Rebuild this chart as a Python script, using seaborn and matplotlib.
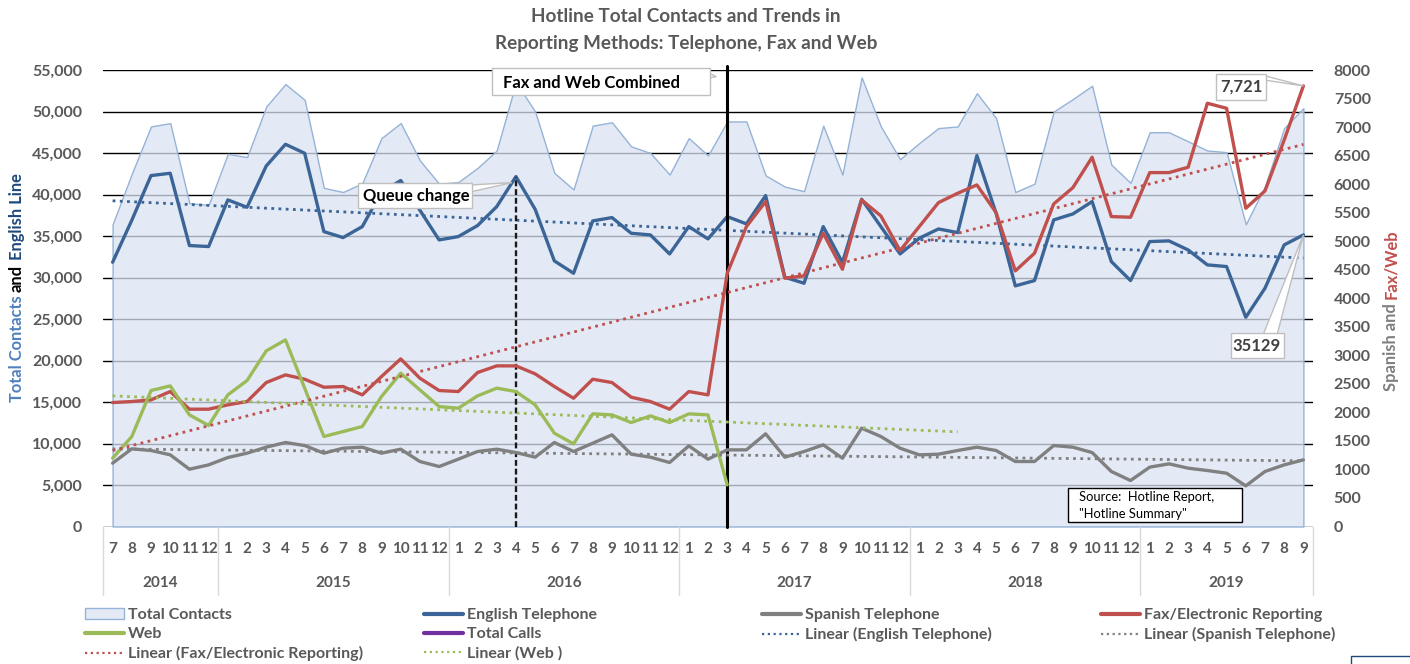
import numpy as np
import pandas as pd
import matplotlib
matplotlib.use('Agg')
import matplotlib.pyplot as plt
import seaborn as sns
from matplotlib.lines import Line2D
from matplotlib.patches import Patch, Rectangle, Polygon
from matplotlib.ticker import FuncFormatter
import matplotlib.transforms as mtransforms

# --- data ---
year_labels = ['2014', '2015', '2016', '2017', '2018', '2019']
year_first_month = [7, 1, 1, 1, 1, 1]
year_last_month = [12, 12, 12, 12, 12, 9]

total_contacts = [36400, 42500, 48200, 48600, 38950, 38750, 44900, 44500, 50600, 53300,
                  51400, 40800, 40300, 41350, 46800, 48600, 44100, 41300, 41500, 43200,
                  45300, 53500, 50000, 42600, 40600, 48300, 48700, 45800, 45000, 42400,
                  46800, 44700, 48800, 48800, 42300, 40950, 40400, 48300, 42400, 54100,
                  48200, 44250, 46200, 48000, 48200, 52200, 49200, 40300, 41300, 50000,
                  51500, 53100, 43600, 41400, 47500, 47500, 46400, 45300, 45100, 36400,
                  41000, 48000, 50400]

english_tel = [31840, 36900, 42280, 42560, 33850, 33730, 39350, 38460, 43440, 46050,
               44970, 35530, 34810, 36135, 40300, 41680, 38100, 34530, 34930, 36255,
               38540, 42160, 38220, 32000, 30510, 36820, 37220, 35330, 35130, 32840,
               36135, 34650, 37340, 36460, 39870, 30030, 29310, 36135, 31800, 39430,
               36135, 32840, 34730, 35850, 35410, 44690, 37740, 28990, 29630, 36940,
               37660, 39150, 31920, 29630, 34330, 34410, 33320, 31520, 31320, 25210,
               28710, 33930, 35129]

spanish_tel = [1110, 1361, 1332, 1256, 1004, 1080, 1209, 1285, 1390, 1472,
               1419, 1285, 1372, 1390, 1285, 1355, 1139, 1051, 1180, 1314,
               1355, 1296, 1215, 1472, 1314, 1460, 1606, 1267, 1215, 1121,
               1413, 1180, 1343, 1343, 1624, 1215, 1314, 1431, 1197, 1723,
               1577, 1372, 1256, 1267, 1332, 1390, 1332, 1139, 1139, 1419,
               1390, 1296, 964, 806, 1040, 1098, 1022, 981, 934, 712,
               964, 1080, 1168]

fax_electronic = [2172, 2190, 2219, 2365, 2056, 2056, 2132, 2190, 2523, 2657,
                  2581, 2441, 2453, 2307, 2628, 2937, 2599, 2383, 2365, 2698,
                  2815, 2815, 2675, 2453, 2248, 2581, 2523, 2266, 2190, 2056,
                  2365, 2307, 4438, 5256, 5694, 4351, 4392, 5139, 4508, 5723,
                  5443, 4836, 5256, 5676, 5840, 5986, 5501, 4479, 4789, 5653,
                  5939, 6471, 5431, 5420, 6202, 6202, 6296, 7417, 7329, 5577,
                  5881, 6774, 7721]

web = [1197, 1577, 2383, 2464, 1956, 1770, 2307, 2558, 3078, 3270,
       2424, 1577, 1664, 1752, 2278, 2686, 2394, 2102, 2073, 2289,
       2424, 2365, 2132, 1635, 1448, 1974, 1956, 1822, 1939, 1822,
       1974, 1956, 730]

queue_change_idx = 21      # 2016-4
combined_idx = 32          # 2017-3
web_trend_end = 44

month_labels = []
month_year = []
for y, m0, m1 in zip(year_labels, year_first_month, year_last_month):
    for m in range(m0, m1 + 1):
        month_labels.append(str(m))
        month_year.append(y)

x = np.arange(len(month_labels))
df = pd.DataFrame({'x': x, 'total': total_contacts, 'english': english_tel,
                   'spanish': spanish_tel, 'fax': fax_electronic})
web_df = pd.DataFrame({'x': x[:len(web)], 'web': web})

def linear_trend(xs, ys, xo):
    c = np.polyfit(xs, ys, 1)
    return np.polyval(c, xo)

# --- colours ---
C_ENG = '#3B6597'
C_SPA = '#808080'
C_FAX = '#C0504D'
C_WEB = '#9BBB59'
C_TOT_FILL = (0.859, 0.890, 0.949, 0.75)
C_TOT_EDGE = '#95B3D7'
C_PURPLE = '#7030A0'
C_TXT = '#595959'
DOT = (0, (1, 1.6))

sns.set_theme(style='white')
plt.rcParams['font.family'] = ['Lato', 'DejaVu Sans']

W, H = 1410, 664
fig = plt.figure(figsize=(W / 100, H / 100), dpi=100)
L, R, T, B = 103, 1313, 70, 526.5
ax = fig.add_axes([L / W, 1 - B / H, (R - L) / W, (B - T) / H])
ax2 = ax.twinx()

# area + lines on the left axis
ax.fill_between(df['x'], df['total'], facecolor=C_TOT_FILL, edgecolor=C_TOT_EDGE, lw=1, zorder=1)
sns.lineplot(data=df, x='x', y='english', ax=ax, color=C_ENG, lw=2.4, zorder=3)
ax.plot(x, linear_trend(x, english_tel, x), color=C_ENG, lw=2, ls=DOT, zorder=4)

# lines on the right axis
sns.lineplot(data=df, x='x', y='spanish', ax=ax2, color=C_SPA, lw=2.4, zorder=3)
sns.lineplot(data=df, x='x', y='fax', ax=ax2, color=C_FAX, lw=2.4, zorder=3)
sns.lineplot(data=web_df, x='x', y='web', ax=ax2, color=C_WEB, lw=2.4, zorder=3)
ax2.plot(x, linear_trend(x, spanish_tel, x), color=C_SPA, lw=2, ls=DOT, zorder=4)
ax2.plot(x, linear_trend(x, fax_electronic, x), color=C_FAX, lw=2, ls=DOT, zorder=4)
xw = np.arange(web_trend_end + 1)
ax2.plot(xw, linear_trend(web_df['x'], web, xw), color=C_WEB, lw=2, ls=DOT, zorder=4)

# event lines
ax.vlines(queue_change_idx, 0, english_tel[queue_change_idx], color='#1a1a1a', lw=1.7,
          ls=(0, (2.5, 1.2)), zorder=5)
ax.axvline(combined_idx, ymin=0, ymax=1.008, color='black', lw=2.2, zorder=5, clip_on=False)

# axes formatting
ax.set_xlim(-0.5, len(x) - 0.5)
ax.set_ylim(0, 55000)
ax2.set_ylim(0, 8000)
ax.set_yticks(range(0, 55001, 5000))
ax2.set_yticks(range(0, 8001, 500))
ax.yaxis.set_major_formatter(FuncFormatter(lambda v, p: f'{v:,.0f}'))
ax.grid(axis='y', color='black', lw=1)
ax.grid(axis='x', visible=False)
ax2.grid(False)
ax.set_axisbelow(True)
for a in (ax, ax2):
    for s in a.spines.values():
        s.set_visible(False)
    a.set_xlabel('')
    a.set_ylabel('')
ax.set_xticks(x)
ax.set_xticklabels(month_labels)
ax.tick_params(axis='x', length=0, pad=11, labelsize=11, labelcolor=C_TXT)
ax.tick_params(axis='y', length=0, pad=15, labelsize=11.5, labelcolor=C_TXT)
ax2.tick_params(axis='y', length=0, pad=15, labelsize=11.5, labelcolor=C_TXT)
for lbl in ax.get_xticklabels() + ax.get_yticklabels() + ax2.get_yticklabels():
    lbl.set_fontweight('bold')

# year row + separators
blend = mtransforms.blended_transform_factory(ax.transData, ax.transAxes)
ybot = -(595 - B) / (B - T)
start = 0
bounds = [-0.5]
for yl in year_labels:
    n = month_year.count(yl)
    ax.text(start + (n - 1) / 2, -(583 - B) / (B - T), yl, transform=blend, ha='center',
            va='center', fontsize=11, fontweight='bold', color=C_TXT)
    start += n
    bounds.append(start - 0.5)
for b in bounds:
    ax.add_line(Line2D([b, b], [0, ybot], transform=blend, color='#D9D9D9', lw=1, clip_on=False))

# title
fig.text(686 / W, 1 - 17 / H, 'Hotline Total Contacts and Trends in', ha='center', va='center',
         fontsize=13.6, fontweight='bold', color=C_TXT)
fig.text(686 / W, 1 - 44 / H, 'Reporting Methods: Telephone, Fax and Web', ha='center', va='center',
         fontsize=13.6, fontweight='bold', color=C_TXT)

# multi-coloured rotated axis labels
renderer = fig.canvas.get_renderer()

def stacked_label(pieces, x_base, y_center, size=11):
    probe1 = fig.text(0, 0, 'x x', fontsize=size, fontweight='bold')
    probe2 = fig.text(0, 0, 'xx', fontsize=size, fontweight='bold')
    gap = probe1.get_window_extent(renderer).width - probe2.get_window_extent(renderer).width
    probe1.remove(); probe2.remove()
    texts, lens = [], []
    for s, c in pieces:
        t = fig.text(0, 0, s, rotation=90, rotation_mode='anchor', ha='left', va='baseline',
                     fontsize=size, fontweight='bold', color=c)
        texts.append(t)
        lens.append(t.get_window_extent(renderer).height)
    total = sum(lens) + gap * (len(pieces) - 1)
    cur = (H - y_center) - total / 2
    for t, l in zip(texts, lens):
        t.set_position((x_base / W, cur / H))
        cur += l + gap

stacked_label([('Total Contacts', '#4F81BD'), ('and', 'black'), ('English Line', '#1F497D')], 22, 288, 11.9)
stacked_label([('Spanish and', '#7F7F7F'), ('Fax/Web', C_FAX)], 1396, 310, 11.9)

# callout boxes
def px2fig(px, py):
    return (px / W, 1 - py / H)

def disp2px(pt):
    return (pt[0], H - pt[1])

def box(x0, y0, x1, y1, ec, lw=1):
    fig.add_artist(Rectangle(px2fig(x0, y1), (x1 - x0) / W, (y1 - y0) / H, transform=fig.transFigure,
                             facecolor='white', edgecolor=ec, lw=lw, zorder=6))

def wedge(p1, p2, tip, ec='#BFBFBF'):
    fig.add_artist(Polygon([px2fig(*p1), px2fig(*tip), px2fig(*p2)], closed=True,
                           transform=fig.transFigure, facecolor='white', edgecolor=ec, lw=1, zorder=5.5))

tip_q = disp2px(ax.transData.transform((queue_change_idx, english_tel[queue_change_idx])))
wedge((470, 185), (470, 192), (tip_q[0] - 4, tip_q[1] + 6))
box(358, 183, 472, 208, '#BFBFBF')
fig.text(416 / W, 1 - 196 / H, 'Queue change', ha='center', va='center', fontsize=12,
         fontweight='bold', color='black', zorder=7)

tip_c = disp2px(ax.transData.transform((combined_idx, 54200)))
wedge((700, 69), (709, 78), (tip_c[0] - 11, tip_c[1]))
box(492, 68, 710, 95, '#BFBFBF')
fig.text(503 / W, 1 - 83 / H, 'Fax and Web Combined', ha='left', va='center', fontsize=12,
         fontweight='bold', color='black', zorder=7)

tip_f = disp2px(ax2.transData.transform((x[-1], fax_electronic[-1])))
wedge((1262, 75), (1264, 80), tip_f)
box(1216, 74, 1266, 100, '#BFBFBF')
fig.text(1241 / W, 1 - 87 / H, f'{fax_electronic[-1]:,}', ha='center', va='center', fontsize=12,
         fontweight='bold', color='#404040', zorder=7)

tip_e = disp2px(ax.transData.transform((x[-1], english_tel[-1])))
wedge((1263, 335), (1277, 335), tip_e)
box(1231, 333, 1284, 358, '#BFBFBF')
fig.text(1257 / W, 1 - 346 / H, f'{english_tel[-1]}', ha='center', va='center', fontsize=12,
         fontweight='bold', color='#404040', zorder=7)

box(1068, 488, 1242, 522, 'black')
fig.text(1079 / W, 1 - 497 / H, 'Source:  Hotline Report,', ha='left', va='center', fontsize=9.3,
         color='black', zorder=7)
fig.text(1079 / W, 1 - 514 / H, '"Hotline Summary"', ha='left', va='center', fontsize=9.3,
         color='black', zorder=7)

# corner box cut off at the bottom right
fig.add_artist(Rectangle(px2fig(1351, 670), 80 / W, 14 / H, transform=fig.transFigure,
                         facecolor='white', edgecolor='#1F497D', lw=1, zorder=6))

# legend, four columns placed like the original
h_tot = Patch(facecolor='#E4EAF5', edgecolor=C_TOT_EDGE, lw=1)
h_eng = Line2D([], [], color=C_ENG, lw=3)
h_spa = Line2D([], [], color=C_SPA, lw=3)
h_fax = Line2D([], [], color=C_FAX, lw=3)
h_web = Line2D([], [], color=C_WEB, lw=3)
h_tc = Line2D([], [], color=C_PURPLE, lw=3)
h_leng = Line2D([], [], color=C_ENG, lw=1.6, ls=DOT)
h_lspa = Line2D([], [], color=C_SPA, lw=1.6, ls=DOT)
h_lfax = Line2D([], [], color=C_FAX, lw=1.6, ls=DOT)
h_lweb = Line2D([], [], color=C_WEB, lw=1.6, ls=DOT)
columns = [
    (85, [h_tot, h_web, h_lfax], ['Total Contacts', 'Web', 'Linear (Fax/Electronic Reporting)']),
    (424, [h_eng, h_tc, h_lweb], ['English Telephone', 'Total Calls', 'Linear (Web )']),
    (762, [h_spa, h_leng], ['Spanish Telephone', 'Linear (English Telephone)']),
    (1101, [h_fax, h_lspa], ['Fax/Electronic Reporting', 'Linear (Spanish Telephone)']),
]
for xc, hs, ls in columns:
    leg = fig.legend(hs, ls, loc='upper left', bbox_to_anchor=px2fig(xc, 608), frameon=False,
                     borderpad=0, borderaxespad=0, handlelength=2.45, handletextpad=0.25,
                     labelspacing=0.31, prop={'family': ['Lato', 'DejaVu Sans'], 'weight': 'bold', 'size': 11.5})
    for t in leg.get_texts():
        t.set_color(C_TXT)

fig.savefig('out.png', dpi=100)
